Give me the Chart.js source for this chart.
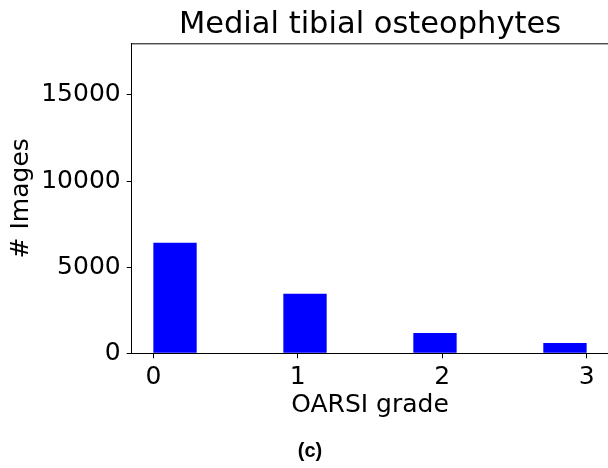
<!DOCTYPE html>
<html>
<head>
<meta charset="utf-8">
<script src="https://cdn.jsdelivr.net/npm/chart.js@4"></script>
<style>
  html, body { margin: 0; padding: 0; background: #fff; overflow: hidden; }
  #wrap { position: relative; width: 608px; height: 468px; overflow: hidden; }
  #chart { position: absolute; left: 0; top: 0; }
  #caption {
    position: absolute; left: 0; width: 620px; top: 439px;
    text-align: center; font: bold 20px "Liberation Sans", Arial, sans-serif; color: #000;
  }
</style>
</head>
<body>
<div id="wrap">
  <canvas id="chart" width="660" height="468"></canvas>
  <div id="caption">(c)</div>
</div>
<script>
/* global Chart */

// histogram of OARSI grades, bins of width 0.3 starting at these positions
const binStarts = [0, 0.9, 1.8, 2.7];
const counts = [6420, 3460, 1180, 600];
const binWidth = 0.3;

const gradeTicks = [0, 1, 2, 3];
const countTicks = [0, 5000, 10000, 15000];

const chartTitle = 'Medial tibial osteophytes';
const FONT = 'DejaVu Sans';

// matplotlib style top spine and a title centred over the axes
const boxPlugin = {
  id: 'box',
  afterDraw(chart) {
    const {ctx, chartArea: a} = chart;
    ctx.save();
    ctx.strokeStyle = '#000';
    ctx.lineWidth = 1;
    ctx.beginPath();
    ctx.moveTo(a.left, a.top + 0.5);
    ctx.lineTo(a.right, a.top + 0.5);
    ctx.stroke();
    ctx.fillStyle = '#000';
    ctx.font = `30.5px "${FONT}"`;
    ctx.textAlign = 'center';
    ctx.textBaseline = 'alphabetic';
    ctx.fillText(chartTitle, (a.left + a.right) / 2, a.top - 10);
    ctx.restore();
  }
};

const ctx = document.getElementById('chart').getContext('2d');
new Chart(ctx, {
  type: 'bar',
  data: {
    datasets: [{
      data: binStarts.map((x, i) => ({x: x + binWidth / 2, y: counts[i]})),
      backgroundColor: '#0000ff',
      borderWidth: 0,
      barPercentage: binWidth / (binStarts[1] - binStarts[0]),
      categoryPercentage: 1
    }]
  },
  options: {
    responsive: false,
    devicePixelRatio: 1,
    animation: false,
    layout: {padding: {left: 0, right: 51.7, top: 43.3, bottom: 40}},
    plugins: {
      legend: {display: false},
      tooltip: {enabled: false},
      title: {display: false}
    },
    scales: {
      x: {
        type: 'linear',
        offset: false,
        min: -0.15,
        max: 3.15,
        afterBuildTicks: s => { s.ticks = gradeTicks.map(v => ({value: v})); },
        afterFit: s => { s.height = 74.7; },
        ticks: {color: '#000', font: {family: FONT, size: 25}, padding: 4},
        grid: {offset: false, drawOnChartArea: false, drawTicks: true, tickLength: 5, color: '#000'},
        border: {display: true, color: '#000', width: 1},
        title: {
          display: true, text: 'OARSI grade', color: '#000',
          font: {family: FONT, size: 25}, padding: {top: 0, bottom: 8}
        }
      },
      y: {
        min: 0,
        max: 18000,
        afterBuildTicks: s => { s.ticks = countTicks.map(v => ({value: v})); },
        afterFit: s => { s.width = 131.7; },
        ticks: {color: '#000', font: {family: FONT, size: 25}, padding: 6, callback: v => String(v)},
        grid: {drawOnChartArea: false, drawTicks: true, tickLength: 5, color: '#000'},
        border: {display: true, color: '#000', width: 1},
        title: {
          display: true, text: '# Images', color: '#000',
          font: {family: FONT, size: 25}, padding: {top: 6, bottom: 0}
        }
      }
    }
  },
  plugins: [boxPlugin]
});
</script>
</body>
</html>
